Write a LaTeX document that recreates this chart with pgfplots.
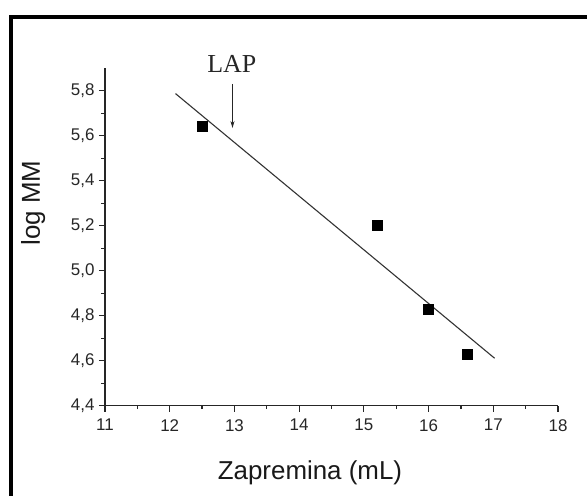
\documentclass[border=0pt]{standalone}
\usepackage{pgfplots}
\pgfplotsset{compat=1.18}
\usetikzlibrary{arrows.meta}
\usepackage{fontspec}
\setmainfont{Liberation Sans}
\newfontfamily\timesfont{Liberation Serif}
\begin{document}
\begin{tikzpicture}
\useasboundingbox (0,0) rectangle (587bp,496bp);
\draw[line width=4bp] (11bp,-5bp) -- (11bp,479bp) -- (600bp,479bp);
\begin{axis}[
  at={(105bp,90.3bp)}, anchor=south west,
  scale only axis, width=453bp, height=337.5bp,
  xmin=11, xmax=18, ymin=4.4, ymax=5.9,
  axis lines*=left,
  axis line style={line width=1.4bp, black!85},
  xtick={11,12,...,18},
  ytick={4.4,4.6,4.8,5.0,5.2,5.4,5.6,5.8},
  minor x tick num=1, minor y tick num=1,
  tick align=outside,
  major tick length=6bp, minor tick length=3.5bp,
  tick style={line width=1.2bp, black!85},
  clip=false,
  /pgf/number format/assume math mode=true,
  tick label style={font=\fontsize{17}{20}\selectfont, text=black!85},
  xticklabel style={yshift=-4bp},
  yticklabel style={xshift=-1bp, /pgf/number format/.cd, use comma, fixed, fixed zerofill, precision=1},
  xlabel={Zapremina (mL)},
  ylabel={log MM},
  label style={font=\fontsize{26}{30}\selectfont, text=black!90},
  xlabel style={at={(rel axis cs:0.4525,-0.220)}, anchor=base},
  ylabel style={at={(rel axis cs:-0.1435,0.6)}, anchor=base, rotate=0},
]
\addplot[black!80, line width=1.1bp] coordinates {(12.09,5.787) (17.02,4.611)};
\addplot[only marks, mark=square*, mark size=5bp, black] coordinates {
  (12.5,5.64) (15.2,5.20) (16.0,4.83) (16.6,4.63)};
\addplot[black!85, line width=1bp, -{Stealth[length=7bp,width=4bp]}] coordinates {(12.97,5.83) (12.97,5.634)};
\node[anchor=base, font=\timesfont\fontsize{26}{30}\selectfont, text=black!85] at (axis cs:12.96,5.879) {LAP};
\end{axis}
\end{tikzpicture}
\end{document}
